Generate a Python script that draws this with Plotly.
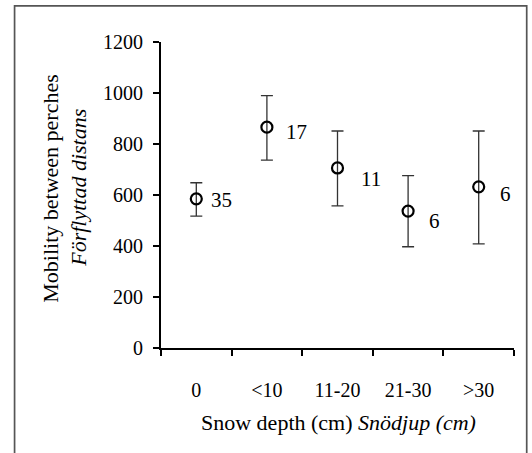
import plotly.graph_objects as go

categories = ["0", "<10", "11-20", "21-30", ">30"]
means = [585, 866, 706, 537, 632]
upper = [648, 990, 851, 676, 851]
lower = [517, 737, 557, 397, 408]
n_labels = ["35", "17", "11", "6", "6"]
y_ticks = [0, 200, 400, 600, 800, 1000, 1200]

# label offsets (px) - styling only
label_dx = [25, 30, 33, 26, 27]
label_dy = [-1, -5, -11, -10, -7]

FONT = "Liberation Serif"
W, H = 532, 453
L, R, T, B = 161.3, 18, 42, 105.3
pw = W - L - R
ph = H - T - B

def px_x(p):
    return (p - L) / pw

def px_y(p):
    return (H - B - p) / ph

fig = go.Figure()
fig.add_trace(go.Scatter(
    x=categories, y=means,
    mode="markers",
    marker=dict(symbol="circle-open", size=11, color="black",
                line=dict(width=2.2, color="black")),
    error_y=dict(type="data", symmetric=False,
                 array=[u - m for u, m in zip(upper, means)],
                 arrayminus=[m - l for m, l in zip(means, lower)],
                 color="#333333", thickness=1.3, width=6),
    showlegend=False, hoverinfo="skip",
))

for c, m, t, dx, dy in zip(categories, means, n_labels, label_dx, label_dy):
    fig.add_annotation(x=c, y=m, text=t, showarrow=False, xshift=dx, yshift=dy,
                       font=dict(family=FONT, size=21, color="black"))

fig.add_annotation(xref="paper", yref="paper", x=px_x(51), y=px_y(188),
                   text="Mobility between perches", textangle=-90, showarrow=False,
                   xanchor="center", yanchor="middle",
                   font=dict(family=FONT, size=22, color="black"))
fig.add_annotation(xref="paper", yref="paper", x=px_x(79), y=px_y(188),
                   text="<i>Förflyttad distans</i>", textangle=-90, showarrow=False,
                   xanchor="center", yanchor="middle",
                   font=dict(family=FONT, size=22, color="black"))
fig.add_annotation(xref="paper", yref="paper", x=px_x(338.5), y=px_y(422),
                   text="Snow depth (cm) <i>Snödjup (cm)</i>", showarrow=False,
                   xanchor="center", yanchor="middle",
                   font=dict(family=FONT, size=22, color="black"))

fig.add_shape(type="rect", xref="paper", yref="paper",
              x0=px_x(15), x1=px_x(526.7), y0=px_y(480), y1=px_y(6),
              line=dict(color="#555555", width=1.7), layer="below")

fig.update_layout(
    width=W, height=H,
    margin=dict(l=L, r=R, t=T, b=B, pad=0),
    paper_bgcolor="white", plot_bgcolor="white",
    font=dict(family=FONT, size=20, color="black"),
    xaxis=dict(type="category", range=[-0.5, 4.5], tickson="boundaries",
               ticks="outside", ticklen=6, tickwidth=1.8, tickcolor="black",
               showline=True, linewidth=2, linecolor="black",
               showgrid=False, zeroline=False, ticklabelstandoff=23,
               tickfont=dict(family=FONT, size=20, color="black"),
               fixedrange=True),
    yaxis=dict(range=[0, 1200], tickvals=y_ticks, ticktext=[str(v) for v in y_ticks],
               ticks="outside", ticklen=6, tickwidth=1.8, tickcolor="black",
               showline=True, linewidth=2, linecolor="black",
               showgrid=False, zeroline=False, ticklabelstandoff=6,
               tickfont=dict(family=FONT, size=20, color="black"),
               fixedrange=True),
)

fig.write_html("out.html", config={"displayModeBar": False},
               post_script="document.body.style.margin='0';document.body.style.overflow='hidden';")
